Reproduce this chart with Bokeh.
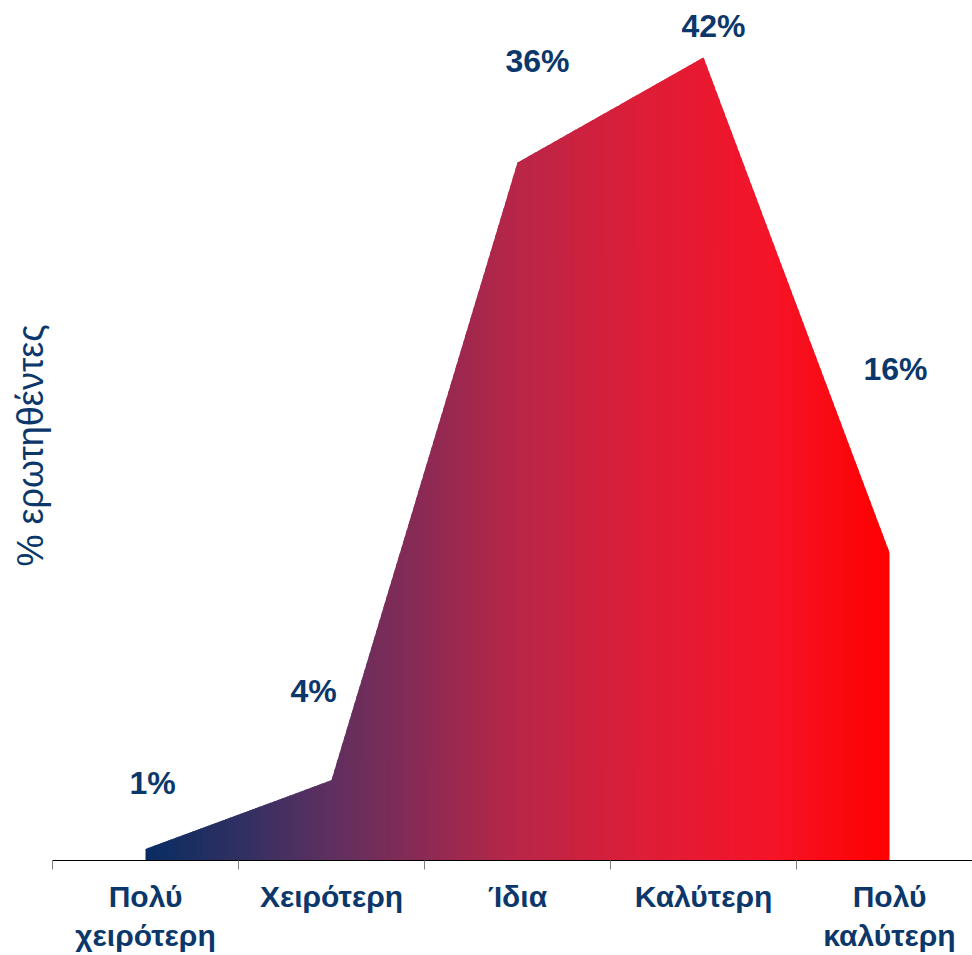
import numpy as np
from bokeh.plotting import figure
from bokeh.models import Range1d, FixedTicker
from bokeh.core.properties import value
from bokeh.embed import file_html
from bokeh.resources import INLINE

# ---- data ----
categories = ["Πολύ\nχειρότερη", "Χειρότερη", "Ίδια", "Καλύτερη", "Πολύ\nκαλύτερη"]
values = [0.6, 4.2, 36.5, 42.0, 16.1]
value_labels = ["1%", "4%", "36%", "42%", "16%"]
y_axis_title = "% ερωτηθέντες"

# ---- styles ----
label_dx = [7, -18, 20, 10, 6]
label_dy = [-66, -89, -102, -31, -184]
grad_pos = [0.0, 0.13, 0.25, 0.375, 0.5, 0.66, 0.84, 1.0]
grad_rgb = [(8, 45, 98), (50, 48, 98), (95, 48, 96), (140, 42, 84),
            (185, 38, 72), (220, 30, 56), (245, 20, 40), (255, 0, 0)]
NAVY = "#0b376b"

xs = np.arange(1, len(values) + 1, dtype=float)

W, H = 972, 955
FL, FB = 52, 95          # frame left / bottom borders
PX_PER_UNIT_X = 186
PX_PER_UNIT_Y = 19.12
p = figure(width=W, height=H, output_backend="svg", toolbar_location=None,
           x_range=Range1d(0.5, 0.5 + (W - FL) / PX_PER_UNIT_X),
           y_range=Range1d(0, (H - FB) / PX_PER_UNIT_Y),
           min_border_left=FL, min_border_right=0, min_border_top=0, min_border_bottom=FB)
p.outline_line_color = None
p.grid.visible = False
p.background_fill_color = "white"

# gradient-filled area drawn as thin, slightly overlapping vertical strips
n = 300
eps = 0.008
edges = np.unique(np.concatenate([np.linspace(xs[0], xs[-1], n + 1), xs]))
strip_xs, strip_ys, strip_cols = [], [], []
gp = np.array(grad_pos)
gr = np.array(grad_rgb, dtype=float)
for a, b in zip(edges[:-1], edges[1:]):
    bb = min(b + eps, xs[-1])
    ya, yb, ym = np.interp(a, xs, values), np.interp(bb, xs, values), np.interp(b, xs, values)
    t = ((a + b) / 2 - xs[0]) / (xs[-1] - xs[0])
    c = [int(round(np.interp(t, gp, gr[:, k]))) for k in range(3)]
    col = "#%02x%02x%02x" % tuple(c)
    if bb > b:
        strip_xs.append([a, bb, bb, b, a])
        strip_ys.append([0, 0, yb, ym, ya])
    else:
        strip_xs.append([a, b, b, a])
        strip_ys.append([0, 0, ym, ya])
    strip_cols.append(col)
p.patches(strip_xs, strip_ys, fill_color=strip_cols, line_color=None)

# value labels
p.text(x=list(xs), y=values, text=value_labels, x_offset=label_dx, y_offset=label_dy,
       text_align="center", text_baseline="middle", text_color=NAVY,
       text_font=value("Liberation Sans"), text_font_style="bold", text_font_size="32px")

# x axis
xa = p.xaxis[0]
xa.ticker = FixedTicker(ticks=list(xs), minor_ticks=list(xs - 0.5))
xa.major_label_overrides = {float(x): c for x, c in zip(xs, categories)}
xa.major_label_overrides.update({int(x): c for x, c in zip(xs, categories)})
xa.major_tick_line_color = None
xa.major_tick_out = 0
xa.major_tick_in = 0
xa.minor_tick_out = 9
xa.minor_tick_in = 0
xa.minor_tick_line_color = "#7f7f7f"
xa.axis_line_color = "black"
xa.axis_line_width = 1
xa.major_label_standoff = 10
xa.major_label_text_font = "Liberation Sans"
xa.major_label_text_font_style = "bold"
xa.major_label_text_font_size = "30px"
xa.major_label_text_color = NAVY

# y axis: title only (trailing no-break spaces nudge it down slightly)
ya = p.yaxis[0]
ya.ticker = FixedTicker(ticks=[])
ya.axis_line_color = None
ya.major_tick_line_color = None
ya.minor_tick_line_color = None
ya.major_tick_out = 0
ya.major_label_standoff = 0
ya.major_label_text_font_size = "0px"
ya.axis_label = y_axis_title + "\u00a0\u00a0\u00a0"
ya.axis_label_text_font = "Liberation Sans"
ya.axis_label_text_font_style = "normal"
ya.axis_label_text_font_size = "36px"
ya.axis_label_text_color = NAVY
ya.axis_label_standoff = 2

open("out.html", "w").write(file_html(p, INLINE))
